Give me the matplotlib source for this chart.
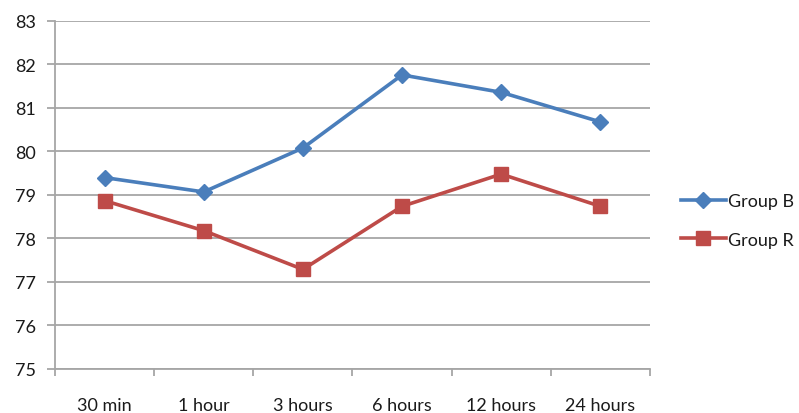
import matplotlib
matplotlib.use("Agg")
import matplotlib.pyplot as plt
import numpy as np

# time points and mean values per group
times = ["30 min", "1 hour", "3 hours", "6 hours", "12 hours", "24 hours"]
group_b = [79.40, 79.07, 80.08, 81.76, 81.36, 80.68]
group_r = [78.87, 78.18, 77.29, 78.74, 79.48, 78.74]

plt.rcParams['font.family'] = ['Lato', 'DejaVu Sans']
plt.rcParams['text.color'] = "#1A1A1A"

fig = plt.figure(figsize=(7.99, 4.14), dpi=100)
ax = fig.add_axes([0.0688, 0.1063, 0.7447, 0.8406])

x = np.arange(len(times))
ax.plot(x, group_b, color="#4A7EBB", lw=2.6, marker="D", ms=8.5, label="Group B")
ax.plot(x, group_r, color="#BE4B48", lw=2.6, marker="s", ms=10, label="Group R")

ax.set_xlim(-0.5, len(times) - 0.5)
ax.set_ylim(75, 83)
ax.set_yticks(range(75, 84))
ax.yaxis.grid(True, color="#A6A6A6", lw=1.3)
ax.set_axisbelow(True)

# category labels centred, tick marks between categories
ax.set_xticks(x)
ax.set_xticklabels(times, fontsize=13)
ax.set_xticks(np.arange(-0.5, len(times)), minor=True)
ax.tick_params(axis="x", which="major", length=0, pad=20, labelcolor="#1A1A1A")
ax.tick_params(axis="x", which="minor", length=5, color="#A6A6A6", width=1.3)
ax.tick_params(axis="y", length=6, color="#A6A6A6", width=1.3, labelsize=13, pad=8,
               labelcolor="#1A1A1A")

for side in ("top", "right"):
    ax.spines[side].set_visible(False)
for side in ("left", "bottom"):
    ax.spines[side].set_color("#A6A6A6")
    ax.spines[side].set_linewidth(1.3)

fig.legend(loc="center left", bbox_to_anchor=(0.852, 0.465), frameon=False,
           borderpad=0, borderaxespad=0, fontsize=13, handlelength=2.5,
           handletextpad=0.1, labelspacing=1.25)

fig.savefig("out.png", dpi=100)
